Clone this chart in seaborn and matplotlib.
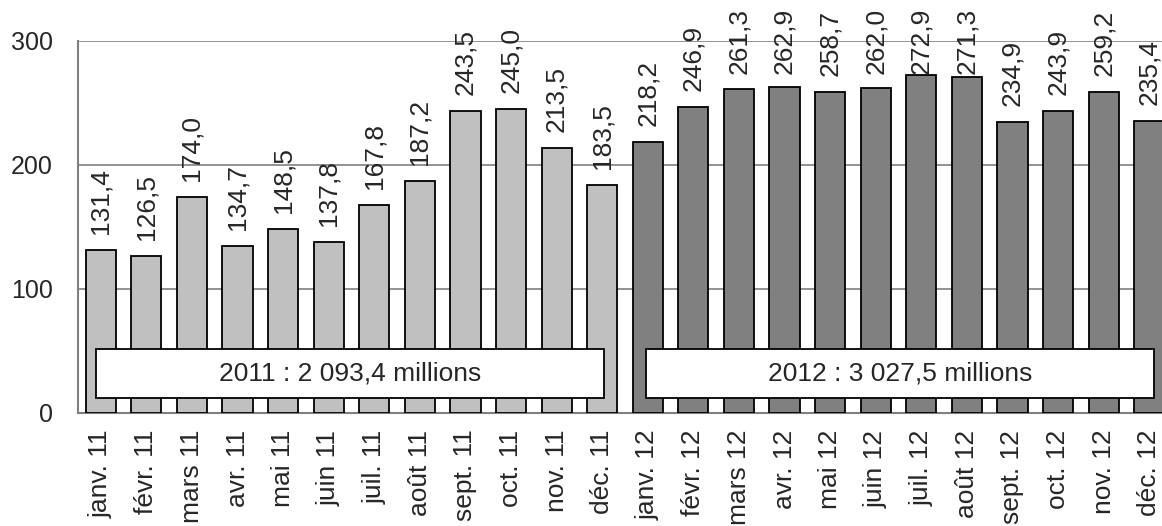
import numpy as np
import pandas as pd
import matplotlib
matplotlib.use("Agg")
import matplotlib.pyplot as plt
from matplotlib.patches import Rectangle
import seaborn as sns

# Monthly values (millions), 2011 then 2012
months = ["janv.", "févr.", "mars", "avr.", "mai", "juin",
          "juil.", "août", "sept.", "oct.", "nov.", "déc."]
values_2011 = [131.4, 126.5, 174.0, 134.7, 148.5, 137.8,
               167.8, 187.2, 243.5, 245.0, 213.5, 183.5]
values_2012 = [218.2, 246.9, 261.3, 262.9, 258.7, 262.0,
               272.9, 271.3, 234.9, 243.9, 259.2, 235.4]
totals = {"2011": "2011 : 2 093,4 millions", "2012": "2012 : 3 027,5 millions"}

labels = [f"{m} 11" for m in months] + [f"{m} 12" for m in months]
df = pd.DataFrame({
    "mois": labels,
    "valeur": values_2011 + values_2012,
    "annee": ["2011"] * 12 + ["2012"] * 12,
})

sns.set_style("white")
plt.rcParams["font.family"] = ["Liberation Sans", "DejaVu Sans"]
FS = 19

fig = plt.figure(figsize=(11.62, 5.26), dpi=100)
ax = fig.add_axes([78 / 1162, 1 - 413 / 526, 1094 / 1162, 372 / 526])

sns.barplot(data=df, x="mois", y="valeur", hue="annee",
            palette={"2011": "#c0c0c0", "2012": "#808080"},
            dodge=False, width=0.66, edgecolor="black", linewidth=1.3,
            legend=False, ax=ax, zorder=3)

ax.set_ylim(0, 300)
ax.set_xlim(-0.5, 23.5)

# value labels, French decimal comma; like Excel, labels are pushed
# down when they would leave the top of the picture
fig_h = fig.get_figheight() * fig.dpi
for i, v in enumerate(df["valeur"]):
    bar_top = ax.transData.transform((i, v))[1]
    y_lab = min(bar_top + 16, fig_h - 74)
    ax.annotate(f"{v:.1f}".replace(".", ","), (i, y_lab),
                xycoords=("data", "figure pixels"), rotation=90,
                ha="center", va="bottom", annotation_clip=False,
                fontsize=FS)

# yearly total boxes
for x0, w, key in [(-0.1, 11.13, "2011"), (11.96, 11.14, "2012")]:
    ax.add_patch(Rectangle((x0, 12), w, 40, facecolor="white",
                           edgecolor="black", linewidth=1.3, zorder=5))
    ax.text(x0 + w / 2, 32, totals[key], ha="center", va="center",
            fontsize=FS, zorder=6)

ax.set_yticks([0, 100, 200, 300])
ax.yaxis.grid(True, color="#808080", linewidth=1.2)
ax.set_axisbelow(True)
ax.set_xlabel("")
ax.set_ylabel("")

ax.tick_params(axis="y", length=0, pad=18, labelsize=18)
ax.tick_params(axis="x", which="major", length=0, pad=12, labelsize=FS,
               labelrotation=90)
ax.set_xticks(np.arange(24) + 0.5, minor=True)
ax.tick_params(axis="x", which="minor", direction="in", length=4,
               color="#a0a0a0", width=1.2)

for side in ["top", "right"]:
    ax.spines[side].set_visible(False)
for side in ["left", "bottom"]:
    ax.spines[side].set_color("#808080")
    ax.spines[side].set_linewidth(1.5)

fig.savefig("out.png", dpi=100)
